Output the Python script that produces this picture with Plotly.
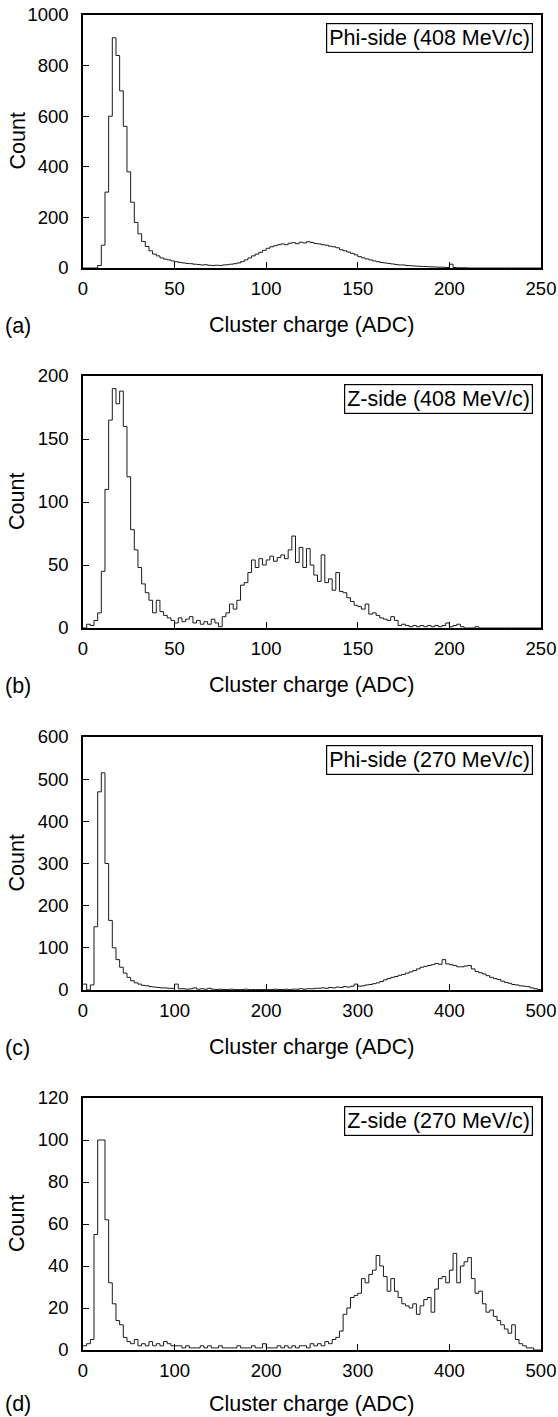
import numpy as np
import plotly.graph_objects as go

# ---------------- data (histogram bin counts) ----------------
# Panel (a): Phi-side 408 MeV/c, 2-ADC bins from 0 to 250
bin_a = 2
counts_a = [0, 0, 0, 0, 10, 90, 300, 600, 910, 840,
            700, 560, 380, 260, 180, 135, 105, 85, 68, 55,
            48, 40, 35, 32, 28, 25, 22, 20, 18, 17,
            15, 14, 12, 13, 11, 10, 11, 10, 12, 13,
            15, 17, 20, 25, 32, 40, 48, 55, 62, 70,
            78, 84, 88, 92, 95, 92, 98, 100, 96, 102,
            99, 104, 101, 97, 95, 92, 90, 86, 84, 80,
            72, 68, 63, 58, 52, 45, 40, 36, 32, 28,
            25, 22, 20, 18, 16, 14, 12, 12, 10, 9,
            8, 7, 6, 6, 5, 4, 4, 3, 3, 2,
            15, 2, 1, 1, 1, 0, 0, 0, 0, 0,
            0, 0, 0, 0, 0, 0, 0, 0, 0, 0,
            0, 0, 0, 0, 0]

# Panel (b): Z-side 408 MeV/c, 2-ADC bins from 0 to 250
bin_b = 2
counts_b = [0, 3, 2, 6, 12, 45, 110, 165, 190, 178,
            188, 160, 120, 78, 62, 48, 35, 28, 22, 12,
            22, 13, 10, 8, 6, 4, 8, 5, 7, 9,
            4, 6, 3, 5, 3, 7, 4, 1, 9, 12,
            19, 15, 22, 34, 36, 44, 54, 48, 55, 50,
            54, 57, 53, 56, 58, 55, 62, 73, 52, 64,
            48, 63, 50, 42, 37, 58, 36, 39, 30, 44,
            29, 28, 24, 21, 18, 17, 15, 19, 11, 12,
            10, 8, 7, 6, 9, 6, 2, 3, 2, 1,
            2, 1, 2, 1, 2, 1, 2, 1, 2, 4,
            1, 2, 3, 1, 0, 0, 0, 1, 0, 0,
            0, 0, 0, 0, 0, 0, 0, 0, 0, 0,
            0, 0, 0, 0, 0]

# Panel (c): Phi-side 270 MeV/c, 4-ADC bins from 0 to 500
bin_c = 4
counts_c = [14, 0, 12, 150, 470, 515, 300, 165, 100, 72,
            54, 40, 30, 22, 17, 14, 11, 10, 8, 7,
            6, 5, 5, 4, 4, 14, 3, 3, 2, 3,
            5, 2, 3, 2, 4, 2, 1, 2, 1, 1,
            2, 1, 1, 1, 2, 1, 1, 1, 1, 1,
            1, 1, 2, 1, 1, 2, 1, 2, 2, 3,
            2, 3, 3, 4, 4, 5, 4, 6, 5, 7,
            6, 8, 7, 9, 14, 9, 10, 12, 13, 15,
            17, 20, 24, 27, 30, 32, 35, 37, 40, 43,
            46, 50, 54, 56, 58, 60, 63, 61, 72, 62,
            60, 58, 55, 55, 57, 58, 50, 44, 41, 38,
            34, 30, 27, 25, 21, 18, 16, 13, 12, 10,
            9, 8, 5, 3, 1]

# Panel (d): Z-side 270 MeV/c, 4-ADC bins from 0 to 500
bin_d = 4
counts_d = [2, 3, 5, 55, 100, 100, 62, 32, 22, 14,
            12, 6, 4, 3, 5, 2, 3, 2, 4, 2,
            3, 2, 4, 3, 2, 2, 2, 1, 2, 1,
            1, 1, 2, 1, 2, 1, 1, 2, 1, 1,
            1, 1, 2, 1, 1, 1, 2, 1, 1, 3,
            1, 1, 1, 2, 1, 2, 1, 2, 1, 2,
            2, 1, 3, 2, 3, 2, 4, 3, 5, 6,
            9, 17, 20, 25, 26, 27, 34, 32, 36, 38,
            45, 40, 35, 28, 34, 28, 25, 22, 21, 20,
            22, 17, 21, 24, 25, 18, 29, 34, 35, 32,
            38, 46, 32, 40, 42, 44, 34, 27, 28, 22,
            18, 19, 16, 14, 12, 10, 8, 12, 5, 3,
            2, 1, 1, 0, 0]

panel_labels = ["(a)", "(b)", "(c)", "(d)"]
panel_titles = ["Phi-side (408 MeV/c)", "Z-side (408 MeV/c)",
                "Phi-side (270 MeV/c)", "Z-side (270 MeV/c)"]
x_ranges = [(0, 250), (0, 250), (0, 500), (0, 500)]
x_dticks = [50, 50, 100, 100]
y_ranges = [(0, 1000), (0, 200), (0, 600), (0, 120)]
y_dticks = [200, 50, 100, 20]
x_title = "Cluster charge (ADC)"
y_title = "Count"

# ---------------- layout geometry (pixels) ----------------
W, H = 558, 1417
frame_left, frame_right = 83, 541
frame_tops = [15, 376, 737, 1098]
frame_bottoms = [268, 628, 990, 1350]

FONT = "Liberation Sans, Arial, Helvetica, sans-serif"

fig = go.Figure()

series = [(counts_a, bin_a), (counts_b, bin_b), (counts_c, bin_c), (counts_d, bin_d)]
for i, (counts, bw) in enumerate(series):
    edges = np.arange(len(counts) + 1) * bw
    yv = list(counts) + [counts[-1]]
    suffix = "" if i == 0 else str(i + 1)
    fig.add_trace(go.Scatter(
        x=edges, y=yv, mode="lines", line=dict(shape="hv", color="#1a1a1a", width=1),
        xaxis="x" + suffix, yaxis="y" + suffix, showlegend=False, hoverinfo="skip"))

layout = dict(width=W, height=H, margin=dict(l=0, r=0, t=0, b=0),
              paper_bgcolor="white", plot_bgcolor="white", showlegend=False,
              font=dict(family=FONT, color="black"))
annotations = []
for i in range(4):
    suffix = "" if i == 0 else str(i + 1)
    xd = [frame_left / W, frame_right / W]
    yd = [1 - frame_bottoms[i] / H, 1 - frame_tops[i] / H]
    layout["xaxis" + suffix] = dict(
        domain=xd, range=list(x_ranges[i]), dtick=x_dticks[i], tick0=0,
        anchor="y" + suffix, showline=True, mirror=True, linecolor="black", linewidth=1.5,
        ticks="inside", ticklen=6, tickwidth=1.2, tickcolor="black",
        showgrid=False, zeroline=False, ticklabelstandoff=3, automargin=False,
        tickfont=dict(size=18.5, family=FONT, color="black"))
    layout["yaxis" + suffix] = dict(
        domain=yd, range=list(y_ranges[i]), dtick=y_dticks[i], tick0=0,
        anchor="x" + suffix, showline=True, mirror=True, linecolor="black", linewidth=1.5,
        ticks="inside", ticklen=6, tickwidth=1.2, tickcolor="black",
        showgrid=False, zeroline=False, ticklabelstandoff=9, automargin=False,
        tickfont=dict(size=18.5, family=FONT, color="black"))
    # x axis title (kept inside the page at the bottom)
    ty = min(frame_bottoms[i] + 57, H - 13)
    annotations.append(dict(text=x_title, xref="paper", yref="paper",
                            x=((frame_left + frame_right) / 2) / W, y=1 - ty / H,
                            xanchor="center", yanchor="middle", showarrow=False,
                            font=dict(size=21.5, family=FONT, color="black")))
    # panel label
    annotations.append(dict(text=panel_labels[i], xref="paper", yref="paper",
                            x=3 / W, y=1 - min(ty + 1, H - 13) / H,
                            xanchor="left", yanchor="middle", showarrow=False,
                            font=dict(size=21.5, family=FONT, color="black")))
    # y axis title
    annotations.append(dict(text=y_title, xref="paper", yref="paper",
                            x=17 / W, y=1 - ((frame_tops[i] + frame_bottoms[i]) / 2) / H,
                            xanchor="center", yanchor="middle", textangle=-90, showarrow=False,
                            font=dict(size=21.5, family=FONT, color="black")))
    # legend-like boxed label
    annotations.append(dict(text=panel_titles[i], xref="paper", yref="paper",
                            x=(frame_right - 8) / W, y=1 - (frame_tops[i] + 8) / H,
                            xanchor="right", yanchor="top", showarrow=False,
                            bordercolor="black", borderwidth=1.2, borderpad=2, bgcolor="white",
                            font=dict(size=21.5, family=FONT, color="black")))

layout["annotations"] = annotations
fig.update_layout(**layout)
fig.write_html("out.html", config={"displayModeBar": False},
               post_script="document.body.style.margin='0px';")
